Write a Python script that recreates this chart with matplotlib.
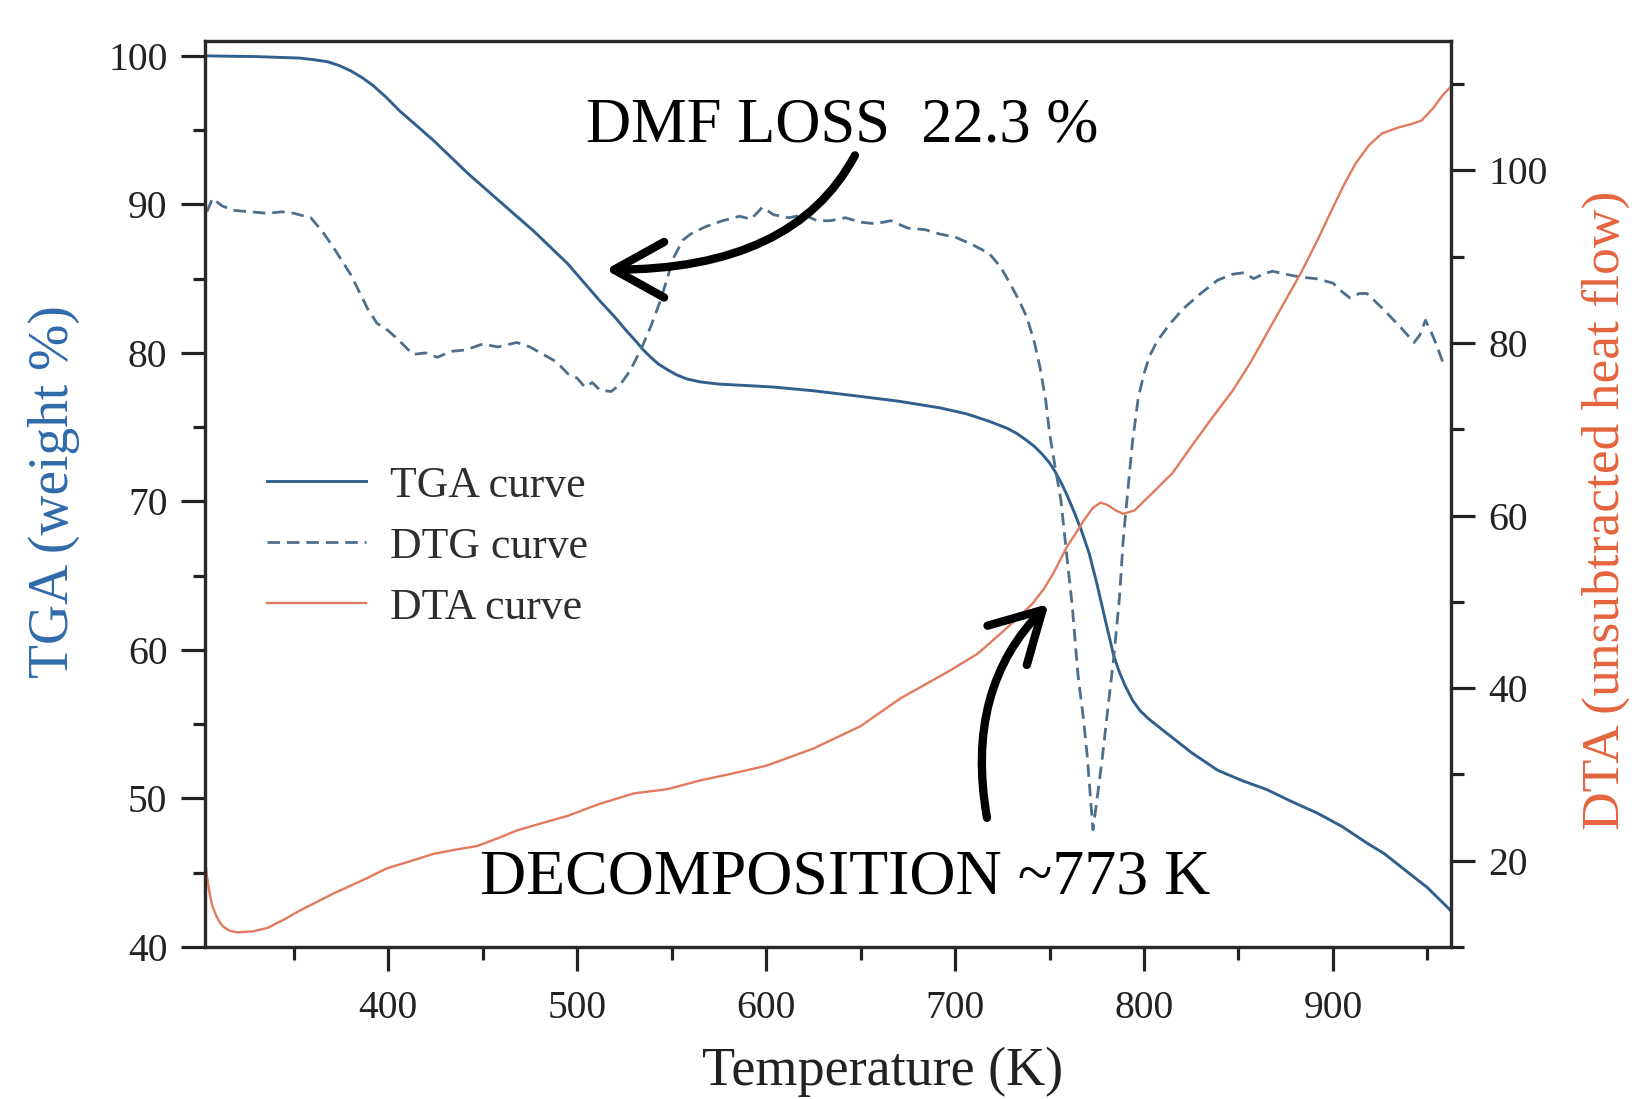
import numpy as np
import matplotlib
matplotlib.use('Agg')
import matplotlib.pyplot as plt
from matplotlib.ticker import MultipleLocator

# TGA curve: temperature (K) vs weight %
tga_T = [303, 330, 353, 360, 368, 374, 380, 386, 392, 399, 406, 415, 424, 442, 459, 477,
         495, 512, 520, 526, 531, 535, 539, 543, 548, 553, 558, 565, 575, 590, 604, 625,
         648, 670, 692, 706, 718, 728, 733, 738, 742, 746, 750, 753, 756, 759, 763, 767,
         771, 775, 779, 784, 787, 790, 794, 798, 803, 812, 825, 839, 852, 865, 878, 892,
         905, 918, 927, 936, 950, 962]
tga_W = [100.0, 99.95, 99.85, 99.75, 99.6, 99.35, 99.0, 98.55, 98.0, 97.2, 96.3, 95.3, 94.3,
         92.1, 90.2, 88.2, 86.0, 83.5, 82.4, 81.5, 80.8, 80.2, 79.7, 79.25, 78.85, 78.5,
         78.25, 78.05, 77.9, 77.8, 77.7, 77.45, 77.1, 76.75, 76.3, 75.9, 75.4, 74.9,
         74.55, 74.1, 73.7, 73.2, 72.6, 72.0, 71.3, 70.5, 69.3, 68.0, 66.5, 64.5, 62.3,
         59.6, 58.5, 57.6, 56.6, 55.9, 55.3, 54.4, 53.1, 51.9, 51.2, 50.6, 49.8, 49.0,
         48.1, 47.0, 46.3, 45.4, 44.0, 42.5]

# DTG curve (drawn on the left scale)
dtg_T = [304, 307, 312, 318, 327, 336, 344, 350, 359, 365, 371, 380, 389, 394, 400, 406,
         413, 420, 426, 433, 441, 450, 458, 468, 475, 482, 489, 495, 500, 504, 508, 512,
         518, 523, 528, 534, 539, 544, 551, 556, 560, 568, 577, 586, 592, 598, 604, 612,
         620, 627, 634, 642, 650, 658, 666, 675, 684, 692, 700, 709, 718, 724, 729, 734,
         738, 742, 745, 748, 750, 753, 756, 759, 762, 765, 768, 770, 772, 773, 775, 778,
         781, 784, 787, 789, 792, 794, 797, 800, 803, 807, 814, 821, 830, 839, 847, 853,
         858, 863, 868, 875, 883, 891, 900, 905, 909, 914, 918, 927, 936, 943, 946, 949,
         952, 954, 959]
dtg_V = [89.5, 90.4, 89.9, 89.6, 89.5, 89.4, 89.5, 89.4, 89.1, 88.2, 87.1, 85.3, 83.0,
         82.0, 81.5, 80.8, 79.9, 80.0, 79.7, 80.1, 80.2, 80.6, 80.4, 80.7, 80.4, 79.9,
         79.4, 78.6, 78.3, 77.7, 78.0, 77.5, 77.4, 77.9, 78.8, 80.3, 81.8, 83.5, 86.4,
         87.6, 88.0, 88.5, 88.9, 89.2, 89.0, 89.8, 89.3, 89.1, 89.3, 88.9, 88.9, 89.1,
         88.8, 88.7, 88.9, 88.4, 88.3, 88.0, 87.8, 87.3, 86.7, 85.8, 84.7, 83.5, 82.4,
         80.7, 79.0, 76.8, 74.6, 72.3, 70.1, 66.5, 63.0, 58.4, 55.3, 52.8, 49.5, 47.9,
         49.8, 52.8, 56.2, 59.5, 63.5, 67.4, 71.5, 74.1, 77.0, 78.6, 79.8, 80.8, 82.0,
         83.0, 84.0, 84.9, 85.3, 85.4, 85.0, 85.3, 85.5, 85.3, 85.1, 85.0, 84.7, 84.1,
         83.7, 84.0, 84.0, 82.9, 81.7, 80.7, 81.2, 82.2, 81.4, 80.8, 79.1]

# DTA curve (unsubtracted heat flow, right scale)
dta_T = [303, 304, 305, 306, 307, 309, 311, 313, 316, 320, 328, 336, 345, 353, 362, 371,
         380, 389, 399, 411, 424, 436, 447, 458, 468, 482, 495, 512, 530, 548, 565, 580,
         600, 625, 650, 671, 697, 712, 724, 735, 741, 747, 752, 756, 759, 764, 768, 773,
         777, 781, 785, 789, 795, 803, 815, 826, 837, 847, 856, 865, 874, 883, 892, 900,
         906, 912, 919, 926, 935, 942, 947, 953, 958, 962]
dta_H = [20.2, 18.3, 16.8, 15.6, 14.7, 13.6, 12.8, 12.3, 11.9, 11.7, 11.8, 12.2, 13.2,
         14.2, 15.2, 16.2, 17.1, 18.0, 19.1, 19.9, 20.8, 21.3, 21.7, 22.6, 23.5, 24.4,
         25.2, 26.6, 27.8, 28.3, 29.3, 30.0, 31.0, 33.0, 35.6, 38.8, 42.0, 44.0, 46.3,
         48.5, 49.8, 51.5, 53.3, 55.0, 56.3, 58.0, 59.4, 60.9, 61.5, 61.2, 60.6, 60.2,
         60.6, 62.3, 64.9, 68.3, 71.6, 74.5, 77.6, 81.1, 84.6, 88.1, 92.0, 95.7, 98.4,
         100.8, 102.9, 104.3, 105.0, 105.4, 105.8, 107.2, 108.7, 109.6]

plt.rcParams['font.family'] = ['Liberation Serif', 'DejaVu Serif']
plt.rcParams['axes.linewidth'] = 2.3

fig = plt.figure(figsize=(16.32, 10.99), dpi=100)
ax = fig.add_axes([0.1256, 0.1383, 0.7635, 0.8244])
ax2 = ax.twinx()

l1, = ax.plot(tga_T, tga_W, color='#31608c', lw=2.1, label='TGA curve')
l2, = ax.plot(dtg_T, dtg_V, color='#4d6f8c', lw=2.0, dashes=(4.5, 2.5), label='DTG curve')
l3, = ax2.plot(dta_T, dta_H, color='#e27a5e', lw=1.7, label='DTA curve')

ax.set_xlim(303, 962.5)
ax.set_ylim(40, 101)
ax2.set_ylim(10, 115)

ax.xaxis.set_major_locator(MultipleLocator(100))
ax.xaxis.set_minor_locator(MultipleLocator(50))
ax.yaxis.set_major_locator(MultipleLocator(10))
ax.yaxis.set_minor_locator(MultipleLocator(5))
ax2.yaxis.set_major_locator(MultipleLocator(20))
ax2.yaxis.set_minor_locator(MultipleLocator(10))
ax.set_xticks([400, 500, 600, 700, 800, 900])

for a in (ax, ax2):
    a.tick_params(which='major', direction='out', length=17, width=2.3,
                  labelsize=28.5, pad=10, colors='#222222')
    a.tick_params(which='minor', direction='out', length=9, width=2.3, colors='#222222')
    for s in a.spines.values():
        s.set_color('#2a2a2a')
        s.set_linewidth(2.3)
ax.tick_params(axis='x', pad=14)

ax.set_xlabel('Temperature (K)', fontsize=39, color='#222222')
ax.set_ylabel('TGA (weight %)', fontsize=40, color='#2f6aaa')
ax2.set_ylabel('DTA (unsubtracted heat flow)', fontsize=38.5, color='#e5643e')
ax.xaxis.set_label_coords(0.544, -0.110)
ax.yaxis.set_label_coords(-0.100, 0.503)
ax2.yaxis.set_label_coords(1.105, 0.482)

leg = ax2.legend(handles=[l1, l2, l3], loc='center left',
                 bbox_to_anchor=(0.05, 0.442), frameon=False, fontsize=31.5,
                 handlelength=2.25, handletextpad=0.55, labelspacing=0.48,
                 borderpad=0, borderaxespad=0)
for t in leg.get_texts():
    t.set_color('#2e2e2e')

# annotations (positions in TGA data units)
ax2.text(640, 94.2, 'DMF LOSS  22.3 %', transform=ax.transData, fontsize=45,
         ha='center', va='baseline', color='black')
ax2.text(642, 43.6, 'DECOMPOSITION ~773 K', transform=ax.transData, fontsize=46,
         ha='center', va='baseline', color='black')

ax2.annotate('', xy=(515, 85.6), xytext=(647, 93.3),
             xycoords=ax.transData, textcoords=ax.transData,
             arrowprops=dict(arrowstyle='->,head_length=0.9,head_width=0.5',
                             connectionstyle='angle3,angleA=-118,angleB=180',
                             lw=6, color='black', shrinkA=0, shrinkB=0,
                             mutation_scale=40, capstyle='round', joinstyle='round'))
ax2.annotate('', xy=(749.5, 63.1), xytext=(716.9, 48.7),
             xycoords=ax.transData, textcoords=ax.transData,
             arrowprops=dict(arrowstyle='->,head_length=0.9,head_width=0.5',
                             connectionstyle='angle3,angleA=100,angleB=45',
                             lw=6, color='black', shrinkA=0, shrinkB=0,
                             mutation_scale=40, capstyle='round', joinstyle='round'))

fig.savefig('out.png', dpi=100)
